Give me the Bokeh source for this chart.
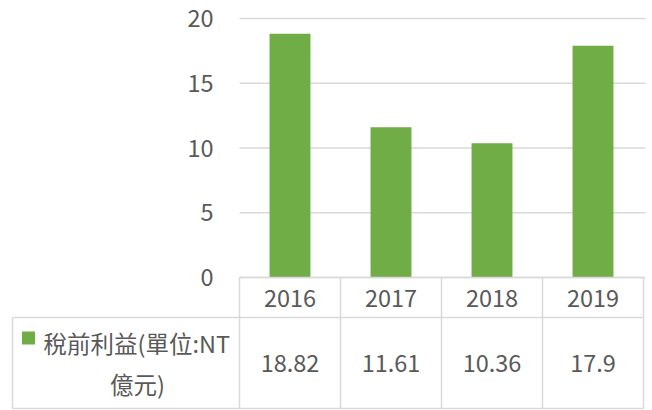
from bokeh.plotting import figure
from bokeh.models import Range1d
from bokeh.core.properties import value
from bokeh.embed import file_html
from bokeh.resources import INLINE

# ---- data ----
years = ["2016", "2017", "2018", "2019"]
profit = [18.82, 11.61, 10.36, 17.9]
profit_labels = ["18.82", "11.61", "10.36", "17.9"]
y_ticks = [0, 5, 10, 15, 20]
y_tick_labels = ["0", "5", "10", "15", "20"]
series_line1 = "稅前利益(單位:NT"
series_line2 = "億元)"

# ---- layout / style ----
W, H = 652, 410
PX_X = 101.0      # pixels per category
PX_Y = 12.95      # pixels per value unit
X0 = 239.0        # page x of plot left edge
Y0 = 277.0        # page y of value 0
PAGE = 0.0

def fx(px):
    return (px - X0) / PX_X

def fy(py):
    return (Y0 - py) / PX_Y

BAR = "#70ad47"
TXT = "#595959"
LINE = "#d9d9d9"
FONT = value("Noto Sans CJK TC")
FS = "23.5px"

p = figure(width=W, height=H, output_backend="svg", toolbar_location=None,
           x_range=Range1d(fx(PAGE), fx(PAGE + W)),
           y_range=Range1d(fy(PAGE + H), fy(PAGE)),
           x_axis_type=None, y_axis_type=None, min_border=0,
           outline_line_color=None, background_fill_color="white",
           border_fill_color="white")

xs = [i + 0.5 for i in range(len(years))]
n = len(years)

# gridlines
p.segment(x0=0, x1=fx(645), y0=y_ticks, y1=y_ticks, line_color=LINE, line_width=1.5)

# bars
p.vbar(x=xs, top=profit, bottom=0, width=0.405, fill_color=BAR, line_color=None)

# y tick labels
p.text(x=0, y=y_ticks, text=y_tick_labels, x_offset=-26, text_align="right",
       text_baseline="middle", text_font=FONT, text_font_size=FS, text_color=TXT)

# data table
row_mid = fy(317)
row_bot = fy(408)
left = fx(12)
p.segment(x0=list(range(n + 1)), x1=list(range(n + 1)), y0=0, y1=row_bot,
          line_color=LINE, line_width=1.5)
p.segment(x0=[left], x1=[left], y0=[row_mid], y1=[row_bot], line_color=LINE, line_width=1.5)
p.segment(x0=[0, left, left], x1=[n, n, n], y0=[0, row_mid, row_bot], y1=[0, row_mid, row_bot],
          line_color=LINE, line_width=1.5)

p.text(x=xs, y=fy(297.5), text=years, text_align="center", text_baseline="middle",
       text_font=FONT, text_font_size=FS, text_color=TXT)
p.text(x=xs, y=fy(363), text=profit_labels, text_align="center", text_baseline="middle",
       text_font=FONT, text_font_size=FS, text_color=TXT)

# legend key in table
p.rect(x=[fx(28)], y=[fy(337.5)], width=13, height=13, width_units="screen",
       height_units="screen", fill_color=BAR, line_color=None)
p.text(x=[fx(43)], y=[fy(342)], text=[series_line1], text_align="left", text_baseline="middle",
       text_font=FONT, text_font_size=FS, text_color=TXT)
p.text(x=[fx(137)], y=[fy(383)], text=[series_line2], text_align="center", text_baseline="middle",
       text_font=FONT, text_font_size=FS, text_color=TXT)

open("out.html", "w").write(file_html(p, INLINE))
